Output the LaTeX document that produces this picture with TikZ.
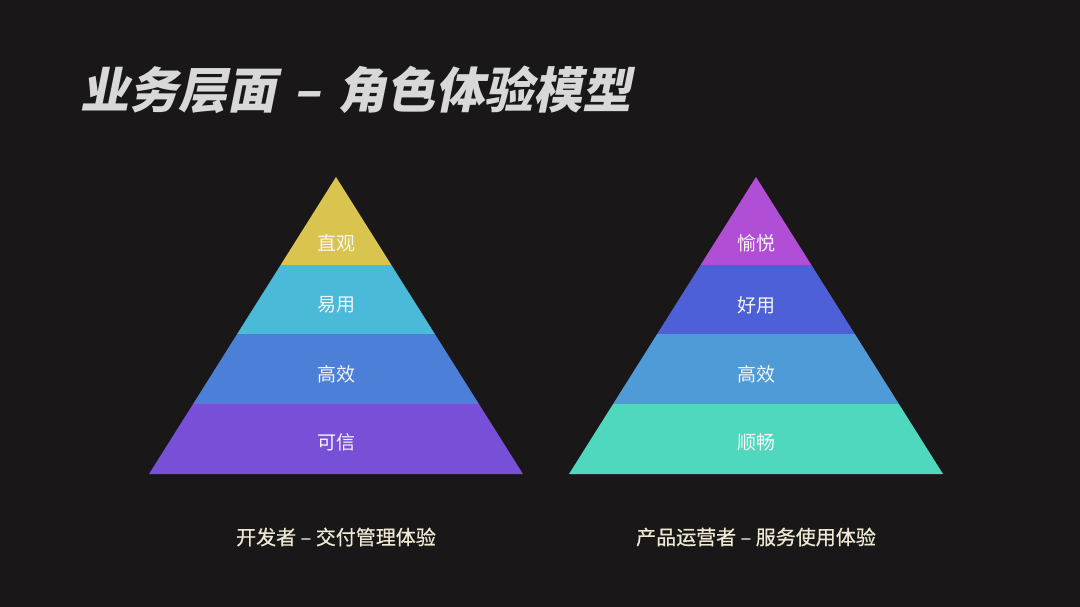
\documentclass[tikz,border=0pt]{standalone}
\usepackage{fontspec}
\usepackage{xcolor}
\usepackage{tikz}
\usetikzlibrary{positioning, calc}

\setmainfont{Noto Sans CJK SC}
\newfontfamily\titlefont[FakeSlant=0.2]{Noto Sans CJK SC}
\newfontfamily\capfont[FakeBold=0.6]{Noto Sans CJK SC}

\definecolor{bgdark}{RGB}{25,23,24}
\definecolor{titlegray}{RGB}{216,216,216}
\definecolor{capcream}{RGB}{238,232,212}
% left pyramid
\definecolor{devA}{RGB}{217,196,80}
\definecolor{devB}{RGB}{75,185,216}
\definecolor{devC}{RGB}{76,127,216}
\definecolor{devD}{RGB}{120,80,216}
% right pyramid
\definecolor{opsA}{RGB}{176,78,214}
\definecolor{opsB}{RGB}{78,96,216}
\definecolor{opsC}{RGB}{78,155,216}
\definecolor{opsD}{RGB}{80,216,190}

\begin{document}
\begin{tikzpicture}[
    x=1pt, y=-1pt,
    title/.style={
        anchor=west,
        text=titlegray,
        font=\titlefont\bfseries\fontsize{49}{52}\selectfont,
        inner sep=0pt
    },
    level/.style={
        text=white!96!black,
        font=\fontsize{19}{22}\selectfont,
        inner sep=0pt
    },
    caption/.style={
        text=capcream,
        font=\capfont\fontsize{20}{23}\selectfont,
        inner sep=0pt
    }
]

    % Canvas
    \useasboundingbox (0,0) rectangle (1080,607);
    \fill[bgdark] (0,0) rectangle (1080,607);

    % Heading
    \node [title] (heading) at (80,90) {业务层面\hspace{0.35em}–\hspace{0.35em}角色体验模型};

    % Pyramid bands (apex at y=177, base at y=474, half base 187)
    \foreach \cx/\ya/\yb/\col in {336/177/265/devA, 336/265/334/devB, 336/334/404/devC, 336/404/474/devD,
                                  756/177/265/opsA, 756/265/334/opsB, 756/334/404/opsC, 756/404/474/opsD} {
        \pgfmathsetmacro{\wa}{0.6296*(\ya-177)}
        \pgfmathsetmacro{\wb}{0.6296*(\yb-177)}
        \fill [\col] (\cx-\wa,\ya) -- (\cx+\wa,\ya) -- (\cx+\wb,\yb) -- (\cx-\wb,\yb) -- cycle;
    }

    % Developer levels
    \node [level] (devtop)  at (336,243) {直观};
    \node [level] (deveasy) at (336,305) {易用};
    \node [level] (deveff)  at (336,374) {高效};
    \node [level] (devbase) at (336,442) {可信};

    % Operator levels
    \node [level] (opstop)  at (756,243) {愉悦};
    \node [level] (opseasy) at (756,305) {好用};
    \node [level] (opseff)  at (756,374) {高效};
    \node [level] (opsbase) at (756,442) {顺畅};

    % Captions under each pyramid
    \node [caption] (devcap) at (336,537) {开发者 – 交付管理体验};
    \node [caption] (opscap) at (756,537) {产品运营者 – 服务使用体验};

\end{tikzpicture}
\end{document}
